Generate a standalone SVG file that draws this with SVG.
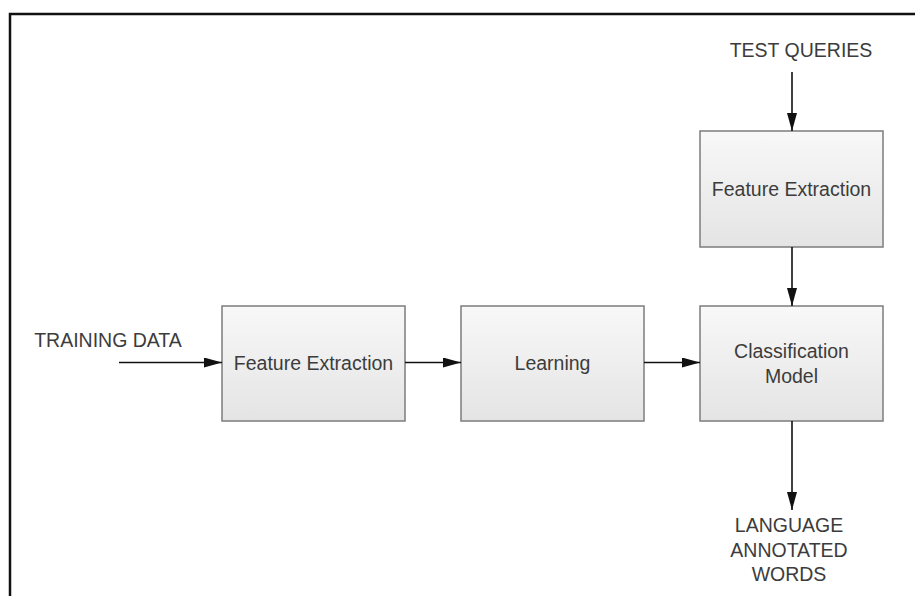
<svg xmlns="http://www.w3.org/2000/svg" width="915" height="596" viewBox="0 0 915 596">
  <defs>
    <linearGradient id="boxFill" x1="0" y1="0" x2="0" y2="1">
      <stop offset="0" stop-color="#f8f8f8"/>
      <stop offset="1" stop-color="#e4e4e4"/>
    </linearGradient>
    <marker id="arrow" markerWidth="18" markerHeight="10" refX="18" refY="5" orient="auto" markerUnits="userSpaceOnUse">
      <path d="M0,0 L18,5 L0,10 Z" fill="#111"/>
    </marker>
  </defs>
  <style>
    .box { fill: url(#boxFill); stroke: #7c7c7c; stroke-width: 1.5; }
    .label { font-family: "Liberation Sans", Arial, sans-serif; font-size: 19.5px; fill: #3c3c3c; text-anchor: middle; }
    .edge { stroke: #111; stroke-width: 1.6; fill: none; marker-end: url(#arrow); }
    .frame { stroke: #111; stroke-width: 2.5; fill: none; }
  </style>

  <rect width="915" height="596" fill="#ffffff"/>
  <!-- open frame: top and left edges only -->
  <path class="frame" d="M10,596 L10,14 L915,14"/>

  <g id="test-queries">
    <text class="label" x="801" y="57">TEST QUERIES</text>
  </g>

  <g id="training-data">
    <text class="label" x="108" y="347">TRAINING DATA</text>
  </g>

  <g id="feature-extraction-test">
    <rect class="box" x="700" y="131" width="183" height="116"/>
    <text class="label" x="791.5" y="196">Feature Extraction</text>
  </g>

  <g id="feature-extraction-train">
    <rect class="box" x="222" y="306" width="183" height="115"/>
    <text class="label" x="313.5" y="370">Feature Extraction</text>
  </g>

  <g id="learning">
    <rect class="box" x="461" y="306" width="183" height="115"/>
    <text class="label" x="552.5" y="370">Learning</text>
  </g>

  <g id="classification-model">
    <rect class="box" x="700" y="306" width="183" height="115"/>
    <text class="label" x="791.5" y="358">Classification</text>
    <text class="label" x="791.5" y="383">Model</text>
  </g>

  <g id="language-annotated-words">
    <text class="label" x="789" y="532">LANGUAGE</text>
    <text class="label" x="789" y="557">ANNOTATED</text>
    <text class="label" x="789" y="581">WORDS</text>
  </g>

  <g id="connectors">
    <line class="edge" x1="792" y1="72" x2="792" y2="131"/>
    <line class="edge" x1="792" y1="247" x2="792" y2="306"/>
    <line class="edge" x1="119" y1="362.5" x2="222" y2="362.5"/>
    <line class="edge" x1="405" y1="362.5" x2="461" y2="362.5"/>
    <line class="edge" x1="644" y1="362.5" x2="700" y2="362.5"/>
    <line class="edge" x1="792" y1="421" x2="792" y2="510"/>
  </g>
</svg>
